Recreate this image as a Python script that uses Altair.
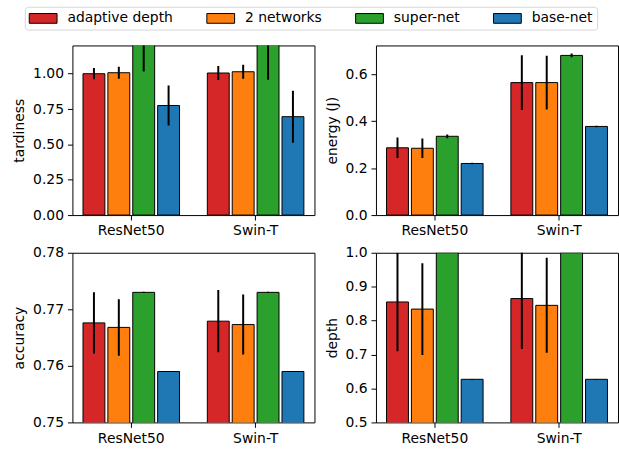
import altair as alt
import pandas as pd

models = ["ResNet50", "Swin-T"]
methods = ["adaptive depth", "2 networks", "super-net", "base-net"]
colors = ["#d62728", "#ff7f0e", "#2ca02c", "#1f77b4"]

# mean and standard deviation per model (rows) and method (columns)
tardiness_mean = [[1.000, 1.007, 1.350, 0.775], [1.005, 1.014, 1.400, 0.696]]
tardiness_std = [[0.040, 0.042, 0.334, 0.142], [0.050, 0.050, 0.442, 0.184]]
energy_mean = [[0.287, 0.285, 0.336, 0.220], [0.565, 0.565, 0.681, 0.378]]
energy_std = [[0.044, 0.042, 0.008, 0.003], [0.117, 0.115, 0.008, 0.003]]
accuracy_mean = [[0.7676, 0.7668, 0.7730, 0.7590], [0.7679, 0.7673, 0.7730, 0.7590]]
accuracy_std = [[0.0054, 0.0050, 0.0001, 0.0001], [0.0055, 0.0053, 0.0001, 0.0001]]
depth_mean = [[0.855, 0.834, 1.000, 0.627], [0.865, 0.845, 1.000, 0.627]]
depth_std = [[0.145, 0.135, 0.0, 0.001], [0.149, 0.140, 0.0, 0.001]]

metrics = {
    "tardiness": (tardiness_mean, tardiness_std),
    "energy": (energy_mean, energy_std),
    "accuracy": (accuracy_mean, accuracy_std),
    "depth": (depth_mean, depth_std),
}

rows = []
for metric, (means, stds) in metrics.items():
    for i, model in enumerate(models):
        for j, method in enumerate(methods):
            rows.append({"metric": metric, "model": model, "method": method,
                         "mean": means[i][j], "std": stds[i][j]})
df = pd.DataFrame(rows)

FONT = "DejaVu Sans"

# wide flat swatch drawn to the right of a small symbol cell, so the
# legend rows stay only as tall as the label text
legend = alt.Legend(
    title=None, orient="none", legendX=-48, legendY=-39,
    direction="horizontal", columns=4, columnPadding=31,
    symbolType="M-1,-0.7L3,-0.7L3,0.7L-1,0.7Z", symbolSize=196,
    symbolStrokeColor="black", symbolStrokeWidth=1, symbolOpacity=1,
    labelFont=FONT, labelFontSize=14, labelColor="black", labelOffset=24,
    padding=4, strokeColor="#d6d6d6", fillColor="white", cornerRadius=3,
)


def panel(metric, title, domain, ticks, fmt, show_legend):
    base = alt.Chart(df).transform_filter(alt.datum.metric == metric)
    x = alt.X("model:N", sort=models,
              scale=alt.Scale(domain=models, paddingInner=0.2235, paddingOuter=0.085),
              axis=alt.Axis(title=None, labelAngle=0))
    xo = alt.XOffset("method:N", sort=methods,
                     scale=alt.Scale(domain=methods, paddingInner=0.12, paddingOuter=0))
    yscale = alt.Scale(domain=domain, nice=False, zero=False)
    yaxis = alt.Axis(title=title, values=ticks, format=fmt)
    bars = base.mark_bar(clip=True, stroke="black", strokeWidth=1).encode(
        x=x, xOffset=xo,
        y=alt.Y("mean:Q", scale=yscale, axis=yaxis),
        color=alt.Color("method:N", sort=methods,
                        scale=alt.Scale(domain=methods, range=colors),
                        legend=legend if show_legend else None),
    )
    errs = base.transform_calculate(
        lo="datum.mean - datum.std", hi="datum.mean + datum.std"
    ).mark_rule(clip=True, color="black", strokeWidth=2).encode(
        x=x, xOffset=xo,
        y=alt.Y("lo:Q", scale=yscale, axis=yaxis),
        y2="hi:Q",
    )
    return alt.layer(bars, errs).properties(width=244, height=171)


tl = panel("tardiness", "tardiness", [0, 1.2], [0, 0.25, 0.5, 0.75, 1.0], ".2f", True)
tr = panel("energy", "energy (J)", [0, 0.7235], [0, 0.2, 0.4, 0.6], ".1f", False)
bl = panel("accuracy", "accuracy", [0.75, 0.78], [0.75, 0.76, 0.77, 0.78], ".2f", False)
br = panel("depth", "depth", [0.5, 1.0], [0.5, 0.6, 0.7, 0.8, 0.9, 1.0], ".1f", False)

chart = alt.concat(
    tl, tr, bl, br, columns=2, spacing={"row": 38, "column": 62}, bounds="flush"
).properties(
    padding={"left": 12, "top": 4, "right": 0, "bottom": 0}
).configure_view(
    stroke="black", strokeWidth=1
).configure_axis(
    domain=False, grid=False, tickColor="black", tickSize=5, tickWidth=1,
    labelFont=FONT, labelFontSize=14, labelColor="black", labelPadding=4,
    titleFont=FONT, titleFontSize=14, titleFontWeight="normal", titleColor="black",
    titlePadding=6,
)

chart.save("out.html", embed_options={"renderer": "svg", "actions": False})
